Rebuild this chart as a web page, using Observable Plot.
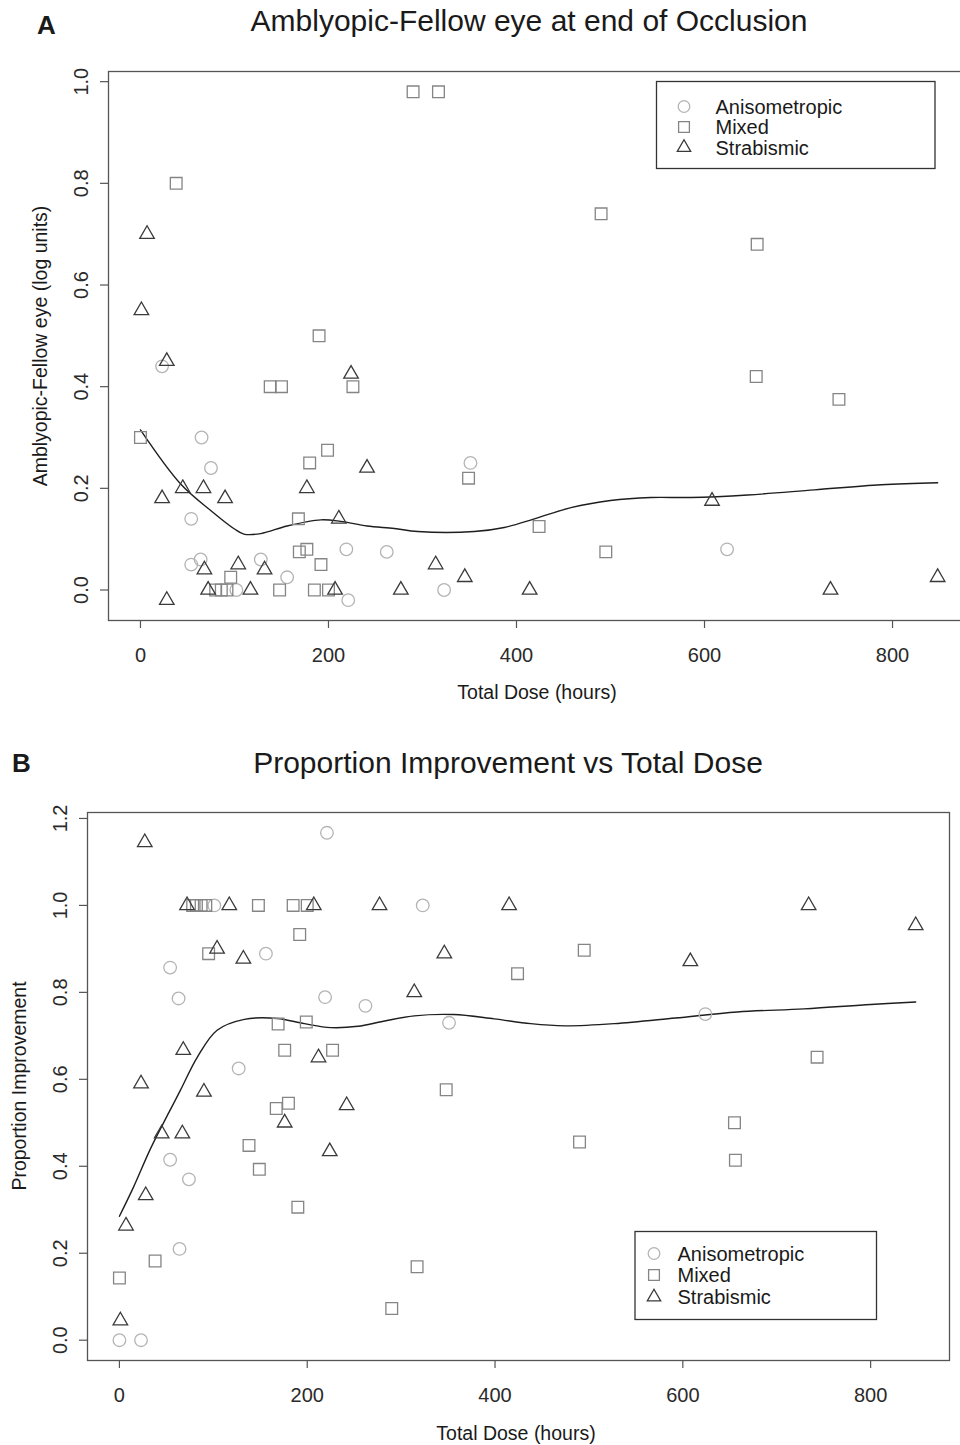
<!DOCTYPE html>
<html><head><meta charset="utf-8">
<script src="https://cdn.jsdelivr.net/npm/d3@7"></script>
<script src="https://cdn.jsdelivr.net/npm/@observablehq/plot@0.6"></script>
<style>
html,body{margin:0;padding:0;background:#fff;overflow:hidden;}
#wrap{position:relative;width:960px;height:1445px;overflow:hidden;background:#fff;}
#wrap svg{position:absolute;left:0;max-width:none !important;background:transparent !important;}
</style></head>
<body><div id="wrap"></div>
<script>
// ---------- Data ----------
const groups = ["Anisometropic", "Mixed", "Strabismic"];
const xTicks = [0, 200, 400, 600, 800];
const yTicksA = [0, 0.2, 0.4, 0.6, 0.8, 1.0];
const yTicksB = [0, 0.2, 0.4, 0.6, 0.8, 1.0, 1.2];

// Panel A: Amblyopic-Fellow eye (log units) vs total dose (hours)
const aAnisoDose = [23, 65, 75, 54, 219, 262, 54, 64, 128, 156, 102, 221, 351, 323, 624];
const aAnisoVal  = [0.44, 0.30, 0.24, 0.14, 0.08, 0.075, 0.05, 0.06, 0.06, 0.025, 0, -0.02, 0.25, 0, 0.08];
const aMixedDose = [38, 190, 138, 150, 226, 0, 199, 180, 168, 169, 177, 192, 96, 80, 86, 92, 148, 185, 200, 349, 424, 495, 290, 317, 490, 656, 655, 743];
const aMixedVal  = [0.80, 0.50, 0.40, 0.40, 0.40, 0.30, 0.275, 0.25, 0.14, 0.075, 0.08, 0.05, 0.025, 0, 0, 0, 0, 0, 0, 0.22, 0.125, 0.075, 0.98, 0.98, 0.74, 0.68, 0.42, 0.375];
const aStrabDose = [7, 1, 28, 224, 241, 45, 67, 23, 90, 177, 211, 68, 104, 132, 72, 117, 207, 277, 28, 314, 345, 414, 608, 734, 848];
const aStrabVal  = [0.70, 0.55, 0.45, 0.425, 0.24, 0.20, 0.20, 0.18, 0.18, 0.20, 0.14, 0.04, 0.05, 0.04, 0, 0, 0, 0, -0.02, 0.05, 0.025, 0, 0.175, 0, 0.025];
const aSmoothDose = [0, 43, 75, 100, 110, 128, 156, 192, 213, 241, 270, 295, 355, 387, 419, 458, 500, 543, 585, 646, 717, 788, 848];
const aSmoothVal  = [0.315, 0.208, 0.156, 0.120, 0.110, 0.111, 0.126, 0.138, 0.135, 0.126, 0.121, 0.115, 0.115, 0.123, 0.140, 0.162, 0.176, 0.182, 0.182, 0.187, 0.197, 0.207, 0.211];

// Panel B: Proportion improvement vs total dose (hours)
const bAnisoDose = [221, 101, 156, 54, 63, 219, 262, 127, 54, 74, 64, 0, 23, 323, 351, 624];
const bAnisoVal  = [1.167, 1.0, 0.889, 0.857, 0.786, 0.789, 0.769, 0.625, 0.415, 0.37, 0.21, 0, 0, 1.0, 0.73, 0.75];
const bMixedDose = [78, 82, 87, 92, 148, 185, 200, 192, 95, 169, 199, 176, 227, 167, 180, 138, 149, 190, 38, 0, 495, 424, 348, 490, 317, 290, 743, 655, 656];
const bMixedVal  = [1, 1, 1, 1, 1, 1, 1, 0.933, 0.889, 0.727, 0.732, 0.667, 0.667, 0.533, 0.545, 0.448, 0.393, 0.306, 0.182, 0.143, 0.897, 0.843, 0.576, 0.456, 0.169, 0.073, 0.651, 0.50, 0.414];
const bStrabDose = [27, 72, 117, 207, 277, 104, 132, 68, 212, 23, 90, 176, 242, 45, 67, 224, 28, 7, 1, 415, 346, 314, 734, 848, 608];
const bStrabVal  = [1.145, 1, 1, 1, 1, 0.90, 0.877, 0.667, 0.65, 0.59, 0.571, 0.50, 0.54, 0.475, 0.475, 0.434, 0.333, 0.263, 0.045, 1, 0.889, 0.80, 1, 0.954, 0.871];
const bSmoothDose = [0, 15, 33, 53, 65, 83, 104, 133, 168, 197, 225, 254, 280, 314, 356, 399, 438, 474, 527, 592, 658, 729, 800, 848];
const bSmoothVal  = [0.285, 0.352, 0.44, 0.525, 0.575, 0.651, 0.713, 0.738, 0.74, 0.728, 0.719, 0.722, 0.733, 0.746, 0.749, 0.739, 0.728, 0.723, 0.728, 0.741, 0.755, 0.762, 0.772, 0.778];

// ---------- Styles ----------
const FONT = "'Liberation Sans', Arial, Helvetica, sans-serif";
const sym = {
  Anisometropic: {symbol: "circle",   r: 6.3, stroke: "#b4b4b4"},
  Mixed:         {symbol: "square",   r: 6.6, stroke: "#858585"},
  Strabismic:    {symbol: "triangle", r: 5.4, stroke: "#3a3a3a"}
};
const zip = (xs, ys) => xs.map((x, i) => ({x, y: ys[i]}));

function panel({width, height, mt, mb, ml, mr, yDomain, yTicks, series, smooth}) {
  return Plot.plot({
    width, height, marginTop: mt, marginBottom: mb, marginLeft: ml, marginRight: mr,
    x: {domain: [-34, 884]},
    y: {domain: yDomain},
    style: {fontFamily: FONT, color: "#2a2a2a", background: "transparent", overflow: "visible"},
    marks: [
      Plot.frame({stroke: "#555", strokeWidth: 1.3}),
      Plot.axisX(xTicks, {tickSize: 8, tickPadding: 19, fontSize: 20, stroke: "#555", strokeWidth: 1.2, label: null}),
      Plot.axisY(yTicks, {tickSize: 8, tickPadding: 13, tickRotate: -90, fontSize: 20, stroke: "#555", strokeWidth: 1.2, label: null, tickFormat: d3.format(".1f")}),
      Plot.line(smooth, {x: "x", y: "y", curve: "catmull-rom", stroke: "#1e1e1e", strokeWidth: 1.4}),
      ...groups.map(g => Plot.dot(series[g], {x: "x", y: "y", symbol: sym[g].symbol, r: sym[g].r, stroke: sym[g].stroke, strokeWidth: 1.3, fill: "none"}))
    ]
  });
}

const wrap = document.getElementById("wrap");

const pA = panel({
  width: 990, height: 700, mt: 71, mb: 80, ml: 108, mr: 19,
  yDomain: [-0.06, 1.02], yTicks: yTicksA,
  series: {Anisometropic: zip(aAnisoDose, aAnisoVal), Mixed: zip(aMixedDose, aMixedVal), Strabismic: zip(aStrabDose, aStrabVal)},
  smooth: zip(aSmoothDose, aSmoothVal)
});
pA.style.top = "0px";
wrap.appendChild(pA);

const pB = panel({
  width: 960, height: 745, mt: 112, mb: 85, ml: 87, mr: 11,
  yDomain: [-0.0467, 1.2137], yTicks: yTicksB,
  series: {Anisometropic: zip(bAnisoDose, bAnisoVal), Mixed: zip(bMixedDose, bMixedVal), Strabismic: zip(bStrabDose, bStrabVal)},
  smooth: zip(bSmoothDose, bSmoothVal)
});
pB.style.top = "700px";
wrap.appendChild(pB);

// ---------- Titles, axis labels, legends (overlay) ----------
const ov = d3.select(wrap).append("svg")
  .attr("width", 960).attr("height", 1445)
  .style("top", "0px")
  .attr("font-family", FONT).attr("fill", "#1a1a1a");

function txt(x, y, s, size, opts = {}) {
  const t = ov.append("text").attr("x", x).attr("y", y).attr("font-size", size)
    .attr("text-anchor", opts.anchor || "middle").text(s);
  if (opts.bold) t.attr("font-weight", "bold");
  if (opts.rotate) t.attr("transform", `rotate(-90 ${x} ${y})`);
  return t;
}

txt(37, 34, "A", 26, {anchor: "start", bold: true});
txt(529, 31, "Amblyopic-Fellow eye at end of Occlusion", 30);
txt(537, 699, "Total Dose (hours)", 19.5);
txt(47, 346, "Amblyopic-Fellow eye (log units)", 19.5, {rotate: true});

txt(12, 772, "B", 26, {anchor: "start", bold: true});
txt(508, 773, "Proportion Improvement vs Total Dose", 30);
txt(516, 1440, "Total Dose (hours)", 19.5);
txt(26, 1086, "Proportion Improvement", 19.5, {rotate: true});

function legend(x0, y0, x1, y1, symX, textX, rows) {
  ov.append("rect").attr("x", x0).attr("y", y0).attr("width", x1 - x0).attr("height", y1 - y0)
    .attr("fill", "#fff").attr("stroke", "#333").attr("stroke-width", 1.3);
  groups.forEach((g, i) => {
    const s = sym[g];
    const d3sym = {circle: d3.symbolCircle, square: d3.symbolSquare, triangle: d3.symbolTriangle}[s.symbol];
    ov.append("path").attr("d", d3.symbol(d3sym, s.r * s.r * Math.PI * 0.85)())
      .attr("transform", `translate(${symX},${rows[i]})`)
      .attr("fill", "none").attr("stroke", s.stroke).attr("stroke-width", 1.3);
    txt(textX, rows[i] + 7, g, 20, {anchor: "start"});
  });
}
legend(656.5, 81.5, 935, 168.5, 684, 715.5, [106.5, 127, 147.5]);
legend(635, 1231.5, 876.5, 1319.5, 654, 677.5, [1253.5, 1275, 1297]);
</script>
</body></html>
